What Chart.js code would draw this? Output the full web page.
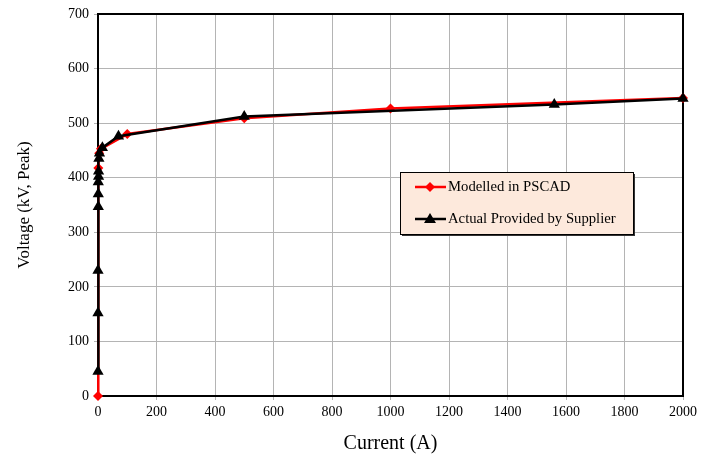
<!DOCTYPE html>
<html>
<head>
<meta charset="utf-8">
<script src="https://cdn.jsdelivr.net/npm/chart.js@4"></script>
<style>
  html, body { margin: 0; padding: 0; background: #fff; }
  #wrap { width: 709px; height: 460px; }
</style>
</head>
<body>
<div id="wrap"><canvas id="c" width="709" height="460"></canvas></div>
<script>
// chart values
const modelledCurrent = [0, 1, 4, 10, 100, 500, 1000, 2000];
const modelledVoltage = [0, 418, 445, 453, 480, 509, 527, 546];

const actualCurrent = [0, 0, 0, 1, 1, 1, 2, 2, 3, 5, 15, 70, 500, 1560, 2000];
const actualVoltage = [45, 152, 230, 347, 370, 392, 402, 412, 435, 445, 455, 476, 512, 534, 545];

const xTicks = [0, 200, 400, 600, 800, 1000, 1200, 1400, 1600, 1800, 2000];
const yTicks = [0, 100, 200, 300, 400, 500, 600, 700];

const seriesNames = ['Modelled in PSCAD', 'Actual Provided by Supplier'];

function toPoints(xs, ys) {
    return xs.map((x, i) => ({ x: x, y: ys[i] }));
}

const serif = "'Liberation Serif', 'Times New Roman', serif";

// plot frame drawn under the lines
const framePlugin = {
    id: 'frame',
    beforeDatasetsDraw(chart) {
        const a = chart.chartArea;
        const ctx = chart.ctx;
        ctx.save();
        ctx.strokeStyle = '#000';
        ctx.lineWidth = 2;
        ctx.strokeRect(a.left, a.top, a.right - a.left, a.bottom - a.top);
        ctx.restore();
    }
};

// boxed legend inside the plot
const legendBoxPlugin = {
    id: 'legendBox',
    afterDatasetsDraw(chart) {
        const ctx = chart.ctx;
        const x = 400, y = 172, w = 233, h = 62;
        ctx.save();
        ctx.fillStyle = '#333';
        ctx.fillRect(x + 2, y + 2, w, h);
        ctx.fillStyle = '#fde9dc';
        ctx.fillRect(x, y, w, h);
        ctx.strokeStyle = '#000';
        ctx.lineWidth = 1;
        ctx.strokeRect(x + 0.5, y + 0.5, w, h);
        ctx.font = '14.7px ' + serif;
        ctx.textBaseline = 'middle';
        chart.data.datasets.forEach((ds, i) => {
            const ly = y + 15 + i * 32;
            ctx.strokeStyle = ds.borderColor;
            ctx.lineWidth = 2.5;
            ctx.beginPath();
            ctx.moveTo(x + 15, ly);
            ctx.lineTo(x + 46, ly);
            ctx.stroke();
            ctx.fillStyle = ds.pointBackgroundColor;
            ctx.beginPath();
            if (i === 0) {
                ctx.moveTo(x + 30, ly - 5);
                ctx.lineTo(x + 35, ly);
                ctx.lineTo(x + 30, ly + 5);
                ctx.lineTo(x + 25, ly);
            } else {
                ctx.moveTo(x + 30, ly - 6);
                ctx.lineTo(x + 36, ly + 4);
                ctx.lineTo(x + 24, ly + 4);
            }
            ctx.closePath();
            ctx.fill();
            ctx.fillStyle = '#000';
            ctx.fillText(ds.label, x + 48, ly);
        });
        ctx.restore();
    }
};

new Chart(document.getElementById('c'), {
    type: 'scatter',
    data: {
        datasets: [{
            label: seriesNames[0],
            data: toPoints(modelledCurrent, modelledVoltage),
            showLine: true,
            clip: false,
            borderColor: '#ff0000',
            backgroundColor: '#ff0000',
            pointBackgroundColor: '#ff0000',
            pointBorderColor: '#ff0000',
            borderWidth: 2.5,
            pointStyle: 'rectRot',
            pointRadius: 5,
            pointBorderWidth: 0,
            order: 2
        }, {
            label: seriesNames[1],
            data: toPoints(actualCurrent, actualVoltage),
            showLine: true,
            clip: false,
            borderColor: '#000000',
            backgroundColor: '#000000',
            pointBackgroundColor: '#000000',
            pointBorderColor: '#000000',
            borderWidth: 2.5,
            pointStyle: 'triangle',
            pointRadius: 6.5,
            pointBorderWidth: 0,
            order: 1
        }]
    },
    options: {
        responsive: false,
        animation: false,
        layout: { padding: { left: 0, top: 14, right: 26, bottom: 0 } },
        plugins: {
            legend: { display: false },
            tooltip: { enabled: false }
        },
        scales: {
            x: {
                type: 'linear',
                min: 0,
                max: 2000,
                afterBuildTicks(scale) { scale.ticks = xTicks.map(v => ({ value: v })); },
                afterFit(scale) { scale.height = 64; },
                grid: { color: '#b4b4b4', lineWidth: 1, tickLength: 4, drawTicks: true },
                border: { display: false },
                ticks: { color: '#000', font: { family: serif, size: 14 }, padding: 4, maxRotation: 0, callback: v => String(v) },
                title: { display: true, text: 'Current (A)', color: '#000', font: { family: serif, size: 20 }, padding: { top: 6 } }
            },
            y: {
                type: 'linear',
                min: 0,
                max: 700,
                afterBuildTicks(scale) { scale.ticks = yTicks.map(v => ({ value: v })); },
                afterFit(scale) { scale.width = 98; },
                grid: { color: '#b4b4b4', lineWidth: 1, tickLength: 4, drawTicks: true },
                border: { display: false },
                ticks: { color: '#000', font: { family: serif, size: 14 }, padding: 5, callback: v => String(v) },
                title: { display: true, text: 'Voltage (kV, Peak)', color: '#000', font: { family: serif, size: 17 }, padding: { top: 14 } }
            }
        }
    },
    plugins: [framePlugin, legendBoxPlugin]
});
</script>
</body>
</html>
